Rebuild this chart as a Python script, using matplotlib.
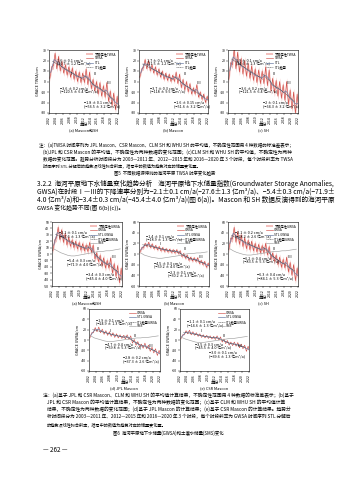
import numpy as np
import pandas as pd
import matplotlib
matplotlib.use("Agg")
import matplotlib.pyplot as plt

plt.rcParams['font.family'] = ['Noto Sans CJK SC', 'DejaVu Sans']
plt.rcParams['axes.linewidth'] = 0.4
plt.rcParams['xtick.major.width'] = 0.3
plt.rcParams['ytick.major.width'] = 0.3
plt.rcParams['xtick.major.size'] = 1.2
plt.rcParams['ytick.major.size'] = 1.2
plt.rcParams['xtick.major.pad'] = 0.8
plt.rcParams['ytick.major.pad'] = 0.8

# ---- data: spring trough / autumn peak of each year, 2002 .. 2022 (cm) ----
half_year_t = 2002.25 + 0.5 * np.arange(41)
year_mid = 2002.5 + np.arange(20)

twsa_mascon_sh = [3, 14, 15, 27, 12, 24, 10, 19, 8, 16, 6, 14, 4, 13, 2, 10, 0, 9, -1, 8,
                  -1, 12, -3, 9, -7, 2, -9, 0, -12, -1, -14, -4, -15, -1, -19, -9, -23, -11, -27, -14, -29]
twsa_mascon = [4, 12, 13, 21, 12, 20, 10, 16, 8, 14, 6, 12, 4, 10, 2, 8, 1, 7, 0, 6,
               0, 9, -2, 7, -6, 2, -8, 0, -10, -2, -12, -6, -12, -3, -15, -10, -17, -12, -20, -14, -21]
twsa_sh = [2, 18, 16, 31, 12, 28, 9, 22, 7, 20, 5, 17, 3, 15, 1, 12, -1, 11, -2, 10,
           -2, 14, -4, 11, -9, 3, -11, 1, -14, 0, -16, -3, -18, 0, -22, -8, -26, -10, -31, -12, -30]

gwsa_mascon_sh = [5, 22, 25, 42, 22, 38, 18, 32, 14, 26, 12, 22, 10, 20, 8, 18, 6, 16, 5, 14,
                  4, 18, 2, 14, -8, 2, -12, -2, -18, -6, -22, -10, -22, -6, -30, -15, -35, -18, -45, -22, -48]
gwsa_mascon = [3, 12, 12, 20, 14, 22, 12, 19, 10, 16, 8, 14, 6, 12, 5, 10, 4, 9, 3, 8,
               2, 8, 1, 6, -5, 1, -8, -2, -12, -6, -13, -7, -14, -7, -18, -12, -20, -14, -25, -17, -27]
gwsa_sh = [8, 30, 28, 50, 22, 42, 18, 36, 14, 30, 10, 26, 8, 24, 6, 20, 4, 18, 2, 16,
           2, 20, -2, 14, -10, 2, -14, -2, -20, -6, -25, -10, -26, -6, -34, -16, -40, -20, -50, -26, -55]
gwsa_jpl = [4, 14, 14, 24, 16, 25, 14, 21, 11, 18, 9, 16, 7, 14, 5, 12, 4, 10, 3, 9,
            2, 10, 1, 8, -6, 1, -10, -3, -14, -8, -16, -6, -17, -10, -22, -14, -25, -17, -30, -20, -33]
gwsa_csr = [2, 10, 10, 18, 12, 19, 10, 16, 9, 14, 7, 12, 5, 10, 4, 9, 3, 8, 2, 7,
            1, 8, 0, 6, -4, 2, -7, -1, -10, -4, -11, -4, -12, -5, -15, -8, -17, -10, -22, -12, -25]

# soil moisture storage, annual means (cm)
sms_mascon_sh = [8, 5, 2, 0, -2, -3, -3, -2, -1, 0, 1, 2, 3, 4, 4, 5, 5, 6, 7, 8]
sms_mascon = [2, -2, -4, -6, -7, -8, -8, -7, -6, -5, -4, -3, -1, 0, 1, 1, 2, 2, 3, 4]
sms_sh = [10, 6, 3, 1, -1, -2, -2, -1, 0, 1, 2, 3, 4, 5, 5, 6, 6, 7, 8, 9]
sms_jpl = [8, 4, 2, 0, -2, -3, -3, -2, -1, 0, 1, 2, 3, 4, 4, 5, 5, 6, 7, 8]
sms_csr = [5, 2, 0, -2, -4, -5, -5, -4, -3, -2, -1, 0, 1, 2, 3, 3, 4, 5, 6, 7]

# uncertainty half-widths (cm)
unc_twsa = [3.0, 2.0, 3.5]
unc_gwsa = [5.0, 3.0, 6.0]

# trend periods I, II, III
periods = [(2003, 2012), (2012, 2016), (2016, 2021)]

year_ticks = list(range(2002, 2023, 2))

twsa_notes = [
    ["1.6 ± 0.1 cm/a\n(20.7 ± 1.2 亿m³/a)", "−3.6 ± 0.2 cm/a\n(−120.5 ± 6.4 亿m³/a)", "−1.8 ± 0.1 cm/a\n(−56.5 ± 3.2 亿m³/a)"],
    ["1.7 ± 0.1 cm/a\n(21.5 ± 1.2 亿m³/a)", "−3.7 ± 0.3 cm/a\n(−118 ± 9.5 亿m³/a)", "−1.6 ± 0.15 cm/a\n(−51.6 ± 3.2 亿m³/a)"],
    ["1.9 ± 0.1 cm/a\n(24.6 ± 1.3 亿m³/a)", "−3.6 ± 0.2 cm/a\n(−121.5 ± 6.4 亿m³/a)", "−2 ± 0.1 cm/a\n(−64.3 ± 3.2 亿m³/a)"],
]
gwsa_notes = [
    ["−2.1 ± 0.1 cm/a\n(−27.6 ± 1.3 亿m³/a)", "−5.4 ± 0.3 cm/a\n(−71.9 ± 4.0 亿m³/a)", "−3.4 ± 0.3 cm/a\n(−45.4 ± 4.0 亿m³/a)"],
    ["−1.4 ± 0.1 cm/a\n(−18.9 ± 1.3 亿m³/a)", "−4.5 ± 0.3 cm/a\n(−59.2 ± 4.0 亿m³/a)", "−2.3 ± 0.1 cm/a\n(−30.2 ± 1.3 亿m³/a)"],
    ["−2.1 ± 0.2 cm/a\n(−28.2 ± 2.6 亿m³/a)", "−6.2 ± 0.4 cm/a\n(−83.5 ± 5.3 亿m³/a)", "−6.3 ± 0.4 cm/a\n(−84.1 ± 5.3 亿m³/a)"],
    ["−1.9 ± 0.1 cm/a\n(−24.9 ± 1.3 亿m³/a)", "−4.7 ± 0.4 cm/a\n(−59.8 ± 5.3 亿m³/a)", "−2.8 ± 0.2 cm/a\n(−37.3 ± 2.6 亿m³/a)"],
    ["−1.1 ± 0.1 cm/a\n(−14.6 ± 1.3 亿m³/a)", "−3.5 ± 0.3 cm/a\n(−45.5 ± 4.0 亿m³/a)", "−3.0 ± 0.1 cm/a\n(−39.6 ± 1.3 亿m³/a)"],
]

RED = '#d2504a'
BAND = '#f3b9b6'
STL = '#6d7fa6'
TREND = '#444444'
SMS_C = '#a0a0a0'

FS_TICK = 2.5
FS_NOTE = 2.7
FS_LEG = 2.3

W, H = 339, 480
fig = plt.figure(figsize=(3.39, 4.80), dpi=100)
fig.patch.set_facecolor('white')
renderer = fig.canvas.get_renderer()


def draw_panel(ax, vals, unc, ylim, yticks, ylabel, labels, notes, note_pos,
               numeral_pos, sms=None):
    t = half_year_t
    v = np.asarray(vals, dtype=float)
    handles = []
    if unc is not None:
        h = ax.fill_between(t, v - unc, v + unc, color=BAND, lw=0, alpha=0.9)
        handles.append(h)
    h, = ax.plot(t, v, color=RED, lw=0.45)
    handles.append(h)
    trend = pd.Series(v).rolling(2).mean().to_numpy()[1:]
    tt = t[1:] - 0.25
    h, = ax.plot(tt, trend, color=STL, lw=0.5)
    handles.append(h)
    hd = None
    for a, b in periods:
        m = (tt >= a) & (tt <= b)
        k, c = np.polyfit(tt[m], trend[m], 1)
        xs = np.array([a, b])
        hd, = ax.plot(xs, k * xs + c, color=TREND, lw=0.4, ls=(0, (2, 1)))
    handles.append(hd)
    if sms is not None:
        h, = ax.plot(year_mid, sms, color=SMS_C, lw=0.45)
        handles.append(h)
    ax.set_xlim(2002, 2022)
    ax.set_ylim(*ylim)
    ax.set_xticks(year_ticks)
    ax.set_xticklabels([str(y) for y in year_ticks], rotation=90, fontsize=FS_TICK)
    ax.set_yticks(yticks)
    ax.set_yticklabels([str(y) for y in yticks], fontsize=FS_TICK)
    ax.set_ylabel(ylabel, fontsize=2.7, labelpad=1)
    ax.legend(handles, labels, loc='upper right', fontsize=FS_LEG, frameon=False,
              handlelength=2.2, handletextpad=0.4, labelspacing=0.12,
              borderaxespad=0.2)
    for txt, (x, y) in zip(notes, note_pos):
        ax.text(x, y, txt, transform=ax.transAxes, fontsize=FS_NOTE,
                va='center', ha='left', linespacing=1.05)
    for txt, (x, y) in zip(['Ⅰ', 'Ⅱ', 'Ⅲ'], numeral_pos):
        ax.text(x, y, txt, transform=ax.transAxes, fontsize=FS_NOTE,
                ha='center', va='center')


def caption(ax, text):
    bb = ax.get_position()
    cx = (bb.x0 + bb.x1) / 2
    fig.text(cx, bb.y0 - 11.5 / H, '年份', fontsize=3.0, ha='center', va='center')
    fig.text(cx, bb.y0 - 17 / H, text, fontsize=2.8, ha='center', va='center')


def box(x0, y0, x1, y1):
    return [x0 / W, 1 - y1 / H, (x1 - x0) / W, (y1 - y0) / H]


# ---------- top row: TWSA ----------
twsa_sets = [twsa_mascon_sh, twsa_mascon, twsa_sh]
top_boxes = [box(49, 50, 118, 113), box(139, 50, 208, 113), box(228, 50, 298, 113)]
top_caps = ['(a) Mascon和SH', '(b) Mascon', '(c) SH']
top_note_pos = [(0.12, 0.80), (0.16, 0.36), (0.50, 0.13)]
top_num_pos = [(0.32, 0.62), (0.66, 0.62), (0.86, 0.47)]
for i in range(3):
    ax = fig.add_axes(top_boxes[i])
    draw_panel(ax, twsa_sets[i], unc_twsa[i], (-30, 30), list(range(30, -31, -10)),
               'GRACE TWSA/cm', ['不确定性TWSA', 'TWSA', 'STL', 'STL趋势'],
               twsa_notes[i], top_note_pos, top_num_pos)
    caption(ax, top_caps[i])

# ---------- middle row: GWSA ----------
gwsa_sets = [gwsa_mascon_sh, gwsa_mascon, gwsa_sh]
sms_sets = [sms_mascon_sh, sms_mascon, sms_sh]
mid_boxes = [box(52, 222, 122, 286), box(139, 222, 209, 286), box(228, 222, 298, 286)]
mid_caps = ['(a) Mascon和SH', '(b) Mascon', '(c) SH']
mid_ylims = [(-50, 50), (-60, 60), (-60, 60)]
mid_ticks = [list(range(50, -51, -10)), list(range(60, -61, -20)), list(range(60, -61, -20))]
mid_note_pos = [[(0.10, 0.80), (0.22, 0.36), (0.48, 0.14)],
                [(0.10, 0.74), (0.22, 0.32), (0.42, 0.18)],
                [(0.10, 0.80), (0.22, 0.40), (0.42, 0.14)]]
mid_num_pos = [(0.30, 0.66), (0.66, 0.58), (0.88, 0.46)]
for i in range(3):
    ax = fig.add_axes(mid_boxes[i])
    draw_panel(ax, gwsa_sets[i], unc_gwsa[i], mid_ylims[i], mid_ticks[i],
               'GRACE GWSA/cm', ['不确定性GWSA', 'GWSA', 'STL GWSA', 'STL趋势GWSA', 'SMS'],
               gwsa_notes[i], mid_note_pos[i], mid_num_pos, sms=sms_sets[i])
    caption(ax, mid_caps[i])

# ---------- bottom row: JPL / CSR ----------
bot_sets = [gwsa_jpl, gwsa_csr]
bot_sms = [sms_jpl, sms_csr]
bot_boxes = [box(89, 309, 160, 371), box(180, 309, 249, 371)]
bot_caps = ['(d) JPL Mascon', '(e) CSR Mascon']
bot_note_pos = [[(0.10, 0.78), (0.22, 0.40), (0.48, 0.18)],
                [(0.10, 0.76), (0.22, 0.40), (0.42, 0.26)]]
bot_num_pos = [(0.30, 0.64), (0.64, 0.56), (0.86, 0.40)]
for i in range(2):
    ax = fig.add_axes(bot_boxes[i])
    draw_panel(ax, bot_sets[i], None, (-60, 60), list(range(60, -61, -20)),
               'GRACE GWSA/cm', ['GWSA', 'STL GWSA', 'STL趋势GWSA', 'SMS'],
               gwsa_notes[3 + i], bot_note_pos[i], bot_num_pos, sms=bot_sms[i])
    caption(ax, bot_caps[i])


# ---------- page text ----------
def line(x, y, s, fs, x_right=None, **kw):
    t = fig.text(x / W, 1 - y / H, s, fontsize=fs, va='center', ha='left', **kw)
    if x_right is not None:
        w = t.get_window_extent(renderer).width
        t.set_fontsize(min(fs * 1.15, fs * (x_right - x) / w))
    return t


note5 = [
    (39, 145, "注：(a)TWSA 时间序列为 JPL Mascon、CSR Mascon、CLM SH 和 WHU SH 的平均值，不确定性范围用 4 种数据的标准差表示；", 290),
    (43, 152, "(b)JPL 和 CSR Mascon 的平均值，不确定性为两种数据的变化范围；(c)CLM SH 和 WHU SH 的平均值，不确定性为两种", 290),
    (43, 159, "数据的变化范围。趋势分析时间段分为 2003—2011 年、2012—2015 年和 2016—2020 年 3 个时段，每个时段斜率为 TWSA", 290),
    (43, 166, "时间序列 STL 分解后的趋势项线性拟合斜率，括号中的数值为趋势对应的储量变化量。", None),
]
for x, y, s, xr in note5:
    line(x, y, s, 3.0, xr)
fig.text(165 / W, 1 - 174 / H, "图5  不同数据源得到的海河平原 TWSA 时序变化趋势", fontsize=3.2,
         ha='center', va='center')

body = [
    (37, 184, "3.2.2  海河平原地下水储量变化趋势分析    海河平原地下水储量指数(Groundwater Storage Anomalies,", 335),
    (37, 192, "GWSA)在时段Ⅰ—Ⅲ的下降速率分别为−2.1±0.1 cm/a(−27.6±1.3 亿m³/a)、−5.4±0.3 cm/a(−71.9±", 335),
    (37, 200, "4.0 亿m³/a)和−3.4±0.3 cm/a(−45.4±4.0 亿m³/a)(图 6(a))。Mascon 和 SH 数据反演得到的海河平原", 335),
    (37, 208, "GWSA 变化趋势不同(图 6(b)(c))。", None),
]
for x, y, s, xr in body:
    line(x, y, s, 4.2, xr)

note6 = [
    (43, 395, "注：(a)基于 JPL 和 CSR Mascon、CLM 和 WHU SH 的平均值计算结果，不确定性范围用 4 种数据的标准差表示；(b)基于", 290),
    (47, 402, "JPL 和 CSR Mascon 的平均值计算结果，不确定性为两种数据的变化范围；(c)基于 CLM 和 WHU SH 的平均值计算", 290),
    (47, 409, "结果，不确定性为两种数据的变化范围；(d)基于 JPL Mascon 的计算结果；(e)基于 CSR Mascon 的计算结果。趋势分", 290),
    (47, 417, "析时间段分为 2003—2011 年、2012—2015 年和 2016—2020 年 3 个时段，每个时段斜率为 GWSA 时间序列 STL 分解后", 290),
    (47, 425, "的趋势项线性拟合斜率，括号中的数值为趋势对应的储量变化量。", None),
]
for x, y, s, xr in note6:
    line(x, y, s, 3.0, xr)
fig.text(168 / W, 1 - 433 / H, "图6  海河平原地下水储量(GWSA)和土壤水储量(SMS)变化", fontsize=3.2,
         ha='center', va='center')

line(43, 450, "— 262 —", 4.5)

fig.savefig('out.png', dpi=100, facecolor='white')
